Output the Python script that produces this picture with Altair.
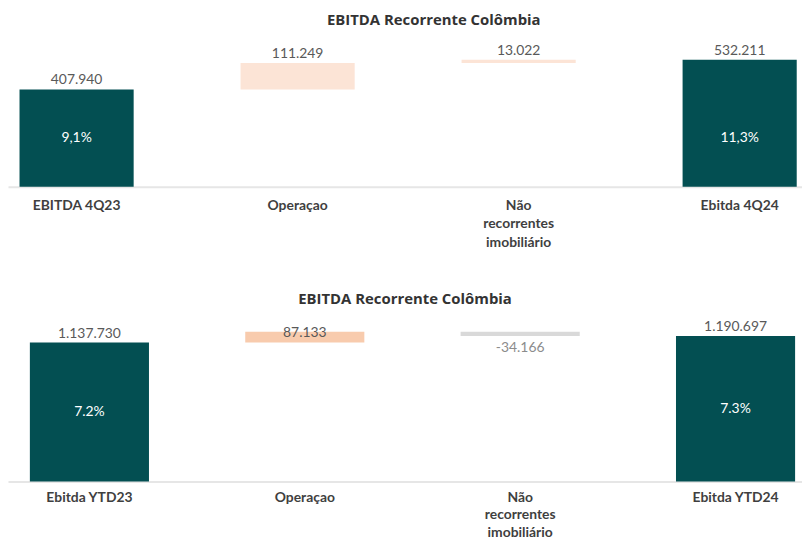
import altair as alt
import pandas as pd

TITLE = "EBITDA Recorrente Colômbia"

cats_top = ["EBITDA 4Q23", "Operaçao", "Não|recorrentes|imobiliário", "Ebitda 4Q24"]
vals_top = [407940, 111249, 13022, 532211]
kinds_top = ["total", "delta", "delta", "total"]
pct_top = ["9,1%", "", "", "11,3%"]

cats_bot = ["Ebitda YTD23", "Operaçao ", "Não|recorrentes|imobiliário ", "Ebitda YTD24"]
vals_bot = [1137730, 87133, -34166, 1190697]
kinds_bot = ["total", "delta", "delta", "total"]
pct_bot = ["7.2%", "", "", "7.3%"]


def build(cats, vals, kinds, pcts, pct_mode, tag):
    rows = []
    run = 0
    opening = vals[0]
    for c, v, k, p in zip(cats, vals, kinds, pcts):
        if k == "total":
            s, e = 0, v
            run = v
            kind = "total"
        else:
            s, e = run, run + v
            run = e
            kind = "up" if v >= 0 else "down"
        if pct_mode == "opening":
            pp = opening / 2
        else:
            pp = (s + e) / 2
        rows.append(dict(cat=c, start=s, end=e, top=max(s, e), bottom=min(s, e),
                         kind=kind, ck=tag + kind, label=f"{v:,}".replace(",", "."),
                         pct=p, pctpos=pp))
    return pd.DataFrame(rows)


def panel(df, cats, dmax, height, colors, tag, pi, po, align, title_dx, title_off,
          up_dy, lpad, lh):
    kinds = [tag + "total", tag + "up", tag + "down"]
    base = alt.Chart(df).encode(
        x=alt.X("cat:N", sort=cats, title=None,
                scale=alt.Scale(paddingInner=pi, paddingOuter=po, align=align),
                axis=alt.Axis(labelAngle=0, domain=True, domainColor="#E6E6E6", domainWidth=2,
                              ticks=False, grid=False, labelPadding=lpad,
                              labelExpr="split(datum.label, '|')",
                              labelFont="Lato", labelFontSize=14, labelFontWeight="bold",
                              labelColor="#3F3F3F", labelLineHeight=lh, labelBaseline="top"))
    )
    yscale = alt.Scale(domain=[0, dmax], nice=False, zero=True)
    bars = base.mark_bar().encode(
        y=alt.Y("start:Q", scale=yscale, axis=None),
        y2="end:Q",
        color=alt.Color("ck:N", scale=alt.Scale(domain=kinds, range=colors), legend=None),
    )
    tot = base.transform_filter("datum.kind == 'total'").mark_text(
        font="Lato", fontSize=14, color="#595959", baseline="middle", dy=-9
    ).encode(y=alt.Y("top:Q", scale=yscale), text="label:N")
    up = base.transform_filter("datum.kind == 'up'").mark_text(
        font="Lato", fontSize=14, color="#595959", baseline="middle", dy=up_dy
    ).encode(y=alt.Y("top:Q", scale=yscale), text="label:N")
    down = base.transform_filter("datum.kind == 'down'").mark_text(
        font="Lato", fontSize=14, color="#8C8C8C", baseline="middle", dy=12
    ).encode(y=alt.Y("bottom:Q", scale=yscale), text="label:N")
    pct = base.transform_filter("datum.pct != ''").mark_text(
        font="Lato", fontSize=14, color="#FFFFFF", baseline="middle"
    ).encode(y=alt.Y("pctpos:Q", scale=yscale), text="pct:N")
    return alt.layer(bars, tot, up, down, pct).properties(
        width=800, height=height,
        title=alt.TitleParams(TITLE, font="Open Sans", fontSize=15, fontWeight="bold",
                              color="#333333", anchor="middle", dx=title_dx, offset=title_off),
    )


df_top = build(cats_top, vals_top, kinds_top, pct_top, "opening", "a_")
df_bot = build(cats_bot, vals_bot, kinds_bot, pct_bot, "mid", "b_")

top = panel(df_top, cats_top, 612000, 147, ["#034F52", "#FCE4D6", "#D9D9D9"], "a_",
            0.4836, 0.038, 0.686, 29, 13, -9, 12, 18.5)
bot = panel(df_bot, cats_bot, 1341000, 165, ["#034F52", "#F8CBAD", "#D9D9D9"], "b_",
            0.447, 0.0668, 0.76, 0, 11, 1, 9, 17.5)

chart = alt.vconcat(top, bot, spacing=43).resolve_scale(color="independent").properties(
    padding={"top": 3, "left": 0, "right": 0, "bottom": 0}, background="#FFFFFF"
).configure_view(strokeWidth=0, stroke="transparent")

chart.save("out.html", embed_options={"renderer": "svg", "actions": False})
